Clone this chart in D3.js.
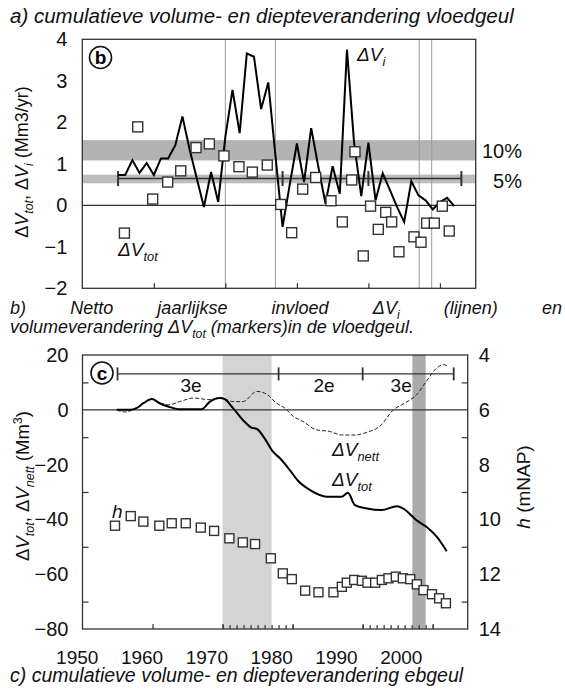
<!DOCTYPE html>
<html>
<head>
<meta charset="utf-8">
<script src="https://cdn.jsdelivr.net/npm/d3@7/dist/d3.min.js"></script>
<style>
  body { margin: 0; background: #fff; }
  svg { font-family: "Liberation Sans", Arial, sans-serif; }
</style>
</head>
<body>
<div id="chart"></div>
<script>
////////////////////////////////////////////////////////////////////////
// Data

// panel b: yearly net inflow dVi (line)
const inflowYears = [1955, 1956, 1957, 1958, 1959, 1960, 1961, 1962, 1963, 1964,
  1965, 1966, 1967, 1968, 1969, 1970, 1971, 1972, 1973, 1974, 1975, 1976, 1977,
  1978, 1979, 1980, 1981, 1982, 1983, 1984, 1985, 1986, 1987, 1988, 1989, 1990,
  1991, 1992, 1993, 1994, 1995, 1996, 1997, 1998, 1999, 2000, 2001, 2002];
const inflowValues = [0.73, 0.73, 1.09, 0.78, 1.02, 0.73, 1.13, 1.13, 1.45, 2.14,
  1.35, 0.65, -0.04, 0.8, 0.08, 1.65, 2.78, 1.74, 3.66, 3.58, 2.32, 2.96, 1.2,
  -0.52, 0.5, 1.49, 0.56, 1.86, 0.93, 0.04, 0.94, 0.28, 3.75, 1.5, 0.22, 1.51,
  0.12, 0.77, 0.37, -0.04, -0.4, 0.58, 0.24, 0.12, -0.1, 0.08, 0.18, -0.02];

// panel b: volume change dVtot (markers)
const volYears = [1957.75, 1959.84, 1961.94, 1963.76, 1965.9, 1967.76, 1969.8,
  1971.9, 1973.77, 1975.86, 1977.74, 1979.27, 1980.81, 1982.63, 1984.77, 1986.35,
  1987.66, 1988.12, 1989.28, 1990.3, 1991.38, 1992.42, 1993.25, 1994.27, 1996.37,
  1997.35, 1998.15, 1999.21, 2000.33, 2001.3];
const volValues = [1.89, 0.15, 0.56, 0.83, 1.39, 1.48, 1.19, 0.93, 0.8, 0.97,
  0.02, -0.66, 0.39, 0.67, 0.11, -0.4, 0.61, 1.29, -1.22, -0.02, -0.58, -0.17,
  -0.4, -1.12, -0.76, -0.89, -0.43, -0.43, -0.02, -0.62];

// panel b: 10% and 5% bands, period bar
const band10 = [1.08, 1.57];
const band5 = [0.53, 0.74];
const barLevelB = 0.645;
const periodYears = [1955, 1978, 1990, 2003];
const markerLines = [1970, 1977, 1997.1, 1998.85];

// panel c: cumulative volume change dVtot (solid)
const totYears = [1954.9, 1956.8, 1957.7, 1958.7, 1959.9, 1961.0, 1962.2, 1963.9,
  1967.0, 1968.2, 1969.6, 1970.3, 1971.5, 1972.9, 1974.1, 1974.9, 1976.0, 1977.2,
  1978.2, 1979.6, 1980.8, 1982.5, 1984.9, 1987.0, 1987.9, 1988.9, 1990.6, 1992.7,
  1994.9, 1996.0, 1997.7, 1999.1, 2000.6, 2002.0];
const totValues = [0, 0, 0.6, 2.4, 3.9, 2.4, 1.2, 0.2, 0.2, 3.0, 4.3, 3.9, 0.6,
  -3.7, -6.5, -7.0, -10.4, -15.3, -17.7, -22.0, -26.0, -29.3, -31.7, -31.7, -30.3,
  -34.8, -36.0, -36.6, -35.2, -36.4, -40.3, -42.7, -46.4, -51.6];

// panel c: cumulative net volume change dVnett (dashed)
const nettYears = [1954.9, 1956.0, 1957.2, 1958.7, 1959.9, 1961.0, 1962.2, 1963.9,
  1965.8, 1968.2, 1969.6, 1971.5, 1972.9, 1974.9, 1976.3, 1977.7, 1978.9, 1980.1,
  1981.5, 1983.4, 1985.3, 1987.0, 1988.9, 1990.6, 1992.5, 1994.4, 1996.0, 1997.7,
  1999.1, 2000.6, 2001.5, 2002.2];
const nettValues = [0, -0.8, 0, 2.4, 3.9, 2.6, 1.8, 3.0, 4.3, 3.7, 4.5, 3.0, 3.0,
  6.7, 5.7, 2.4, 0.6, -2.4, -4.3, -7.3, -7.9, -9.2, -9.2, -8.2, -5.9, 0, 2.4, 5.5,
  10.4, 15.3, 16.5, 15.9];

// panel c: depth h (markers, right axis)
const hYears = [1954.64, 1956.89, 1958.69, 1960.97, 1962.74, 1964.74, 1966.89,
  1968.79, 1970.97, 1972.89, 1974.64, 1976.89, 1978.6, 1979.89, 1981.79, 1983.69,
  1985.83, 1987.03, 1987.74, 1988.79, 1989.89, 1990.69, 1991.79, 1992.74, 1993.69,
  1994.74, 1995.74, 1996.79, 1997.74, 1998.69, 1999.89, 2000.93, 2001.89];
const hValues = [10.23, 9.88, 10.08, 10.23, 10.14, 10.14, 10.3, 10.42, 10.69,
  10.84, 10.9, 11.42, 11.97, 12.18, 12.6, 12.66, 12.66, 12.46, 12.31, 12.21,
  12.24, 12.31, 12.31, 12.21, 12.15, 12.09, 12.15, 12.18, 12.37, 12.58, 12.73,
  12.88, 13.06];

// panel c: shaded periods, period bar and labels
const shadeLight = [1970, 1977];
const shadeDark = [1997.1, 1999];
const barLevelC = 13.1;
const periodLabels = ["3e", "2e", "3e"];
const periodLabelYears = [1965.5, 1984.5, 1995.5];

// tick values
const ticksB = [-2, -1, 0, 1, 2, 3, 4];
const ticksCLeft = [20, 0, -20, -40, -60, -80];
const ticksCLeftMinor = [10, -10, -30, -50, -70];
const ticksCRight = [4, 6, 8, 10, 12, 14];
const ticksCRightMinor = [5, 7, 9, 11, 13];
const decadeTicks = [1960, 1970, 1980, 1990, 2000];
const yearLabels = [1950, 1960, 1970, 1980, 1990, 2000];

////////////////////////////////////////////////////////////////////////
// Layout

const width = 565, height = 691;
const svg = d3.select("#chart").append("svg")
  .attr("width", width).attr("height", height);

// text with delta / italic / subscript pieces
function rich(sel, parts, size) {
  let cur = 0;
  parts.forEach(p => {
    const shift = p.sub ? size * 0.27 : p.sup ? -size * 0.38 : 0;
    const t = sel.append("tspan").text(p.t);
    if (shift !== cur) t.attr("dy", shift - cur);
    cur = shift;
    if (p.sub || p.sup) t.style("font-size", (size * 0.68) + "px");
    if (p.i) t.style("font-style", "italic");
    else if (p.i === false) t.style("font-style", "normal");
  });
  return sel;
}
const dV = (sub, upright) => [
  {t: "\u0394", i: upright ? false : true}, {t: "V", i: true}, {t: sub, i: true, sub: true}
];

function label(x, y, size, parts, opts = {}) {
  const t = svg.append("text").attr("x", x).attr("y", y)
    .style("font-size", size + "px").attr("fill", "#111");
  if (opts.anchor) t.attr("text-anchor", opts.anchor);
  if (opts.italic) t.style("font-style", "italic");
  if (opts.transform) t.attr("transform", opts.transform);
  return rich(t, parts, size);
}

function circled(cx, cy, letter) {
  svg.append("circle").attr("cx", cx).attr("cy", cy).attr("r", 11)
    .attr("fill", "#fff").attr("stroke", "#111").attr("stroke-width", 1.6);
  svg.append("text").attr("x", cx).attr("y", cy + 6.5)
    .attr("text-anchor", "middle").style("font-size", "19px")
    .style("font-weight", "bold").text(letter);
}

const tidy = g => g.call(g => g.select(".domain").remove())
  .call(g => g.selectAll("line").attr("stroke", "#333").attr("stroke-width", 1.2))
  .call(g => g.selectAll("text").style("font-size", "20px")
    .style("font-family", "Liberation Sans, Arial, sans-serif").attr("fill", "#111"));

////////////////////////////////////////////////////////////////////////
// Panel b (top)

const xT = d3.scaleLinear().domain([1950, 2005]).range([82.3, 475.7]);
const yT = d3.scaleLinear().domain([-2, 4]).range([288.3, 39.3]);

const gT = svg.append("g");

[band10, band5].forEach((b, i) => {
  gT.append("rect")
    .attr("x", xT(1950)).attr("width", xT(2005) - xT(1950))
    .attr("y", yT(b[1])).attr("height", yT(b[0]) - yT(b[1]))
    .attr("fill", i === 0 ? "#b3b3b3" : "#bdbdbd");
});

gT.selectAll(".vline").data(markerLines).join("line")
  .attr("x1", d => xT(d)).attr("x2", d => xT(d))
  .attr("y1", yT(4)).attr("y2", yT(-2))
  .attr("stroke", "#999").attr("stroke-width", 1);

gT.append("line")
  .attr("x1", xT(1950)).attr("x2", xT(2005))
  .attr("y1", yT(0)).attr("y2", yT(0))
  .attr("stroke", "#333").attr("stroke-width", 1.3);

// period bar
gT.append("line")
  .attr("x1", xT(periodYears[0])).attr("x2", xT(periodYears[3]))
  .attr("y1", yT(barLevelB)).attr("y2", yT(barLevelB))
  .attr("stroke", "#333").attr("stroke-width", 1.6);
gT.selectAll(".ptick").data(periodYears).join("line")
  .attr("x1", d => xT(d)).attr("x2", d => xT(d))
  .attr("y1", yT(barLevelB) - 7.5).attr("y2", yT(barLevelB) + 7.5)
  .attr("stroke", "#333").attr("stroke-width", 2);

// inflow line
const inflow = inflowYears.map((y, i) => [y, inflowValues[i]]);
gT.append("path").datum(inflow)
  .attr("fill", "none").attr("stroke", "#000").attr("stroke-width", 2)
  .attr("d", d3.line().x(d => xT(d[0])).y(d => yT(d[1])));

// volume markers
const vol = volYears.map((y, i) => [y, volValues[i]]);
const sT = 10;
gT.selectAll(".vol").data(vol).join("rect")
  .attr("x", d => xT(d[0]) - sT / 2).attr("y", d => yT(d[1]) - sT / 2)
  .attr("width", sT).attr("height", sT)
  .attr("fill", "#fff").attr("stroke", "#333").attr("stroke-width", 1.4);

// legend marker
gT.append("rect")
  .attr("x", xT(1956) - sT / 2 - 0.8).attr("y", yT(-0.67) - sT / 2)
  .attr("width", sT).attr("height", sT)
  .attr("fill", "#fff").attr("stroke", "#333").attr("stroke-width", 1.4);

// frame
gT.append("rect")
  .attr("x", xT(1950)).attr("y", yT(4))
  .attr("width", xT(2005) - xT(1950)).attr("height", yT(-2) - yT(4))
  .attr("fill", "none").attr("stroke", "#333").attr("stroke-width", 1.3);

// axes
gT.append("g").attr("transform", `translate(0,${yT(-2)})`)
  .call(d3.axisBottom(xT).tickValues(decadeTicks).tickSize(-5).tickFormat(""))
  .call(tidy);

gT.append("g").attr("transform", `translate(${xT(1950)},0)`)
  .call(d3.axisLeft(yT).tickValues(ticksB).tickSize(0).tickPadding(15)
    .tickFormat(d3.format("d")))
  .call(tidy);

circled(100.5, 57.5, "b");

label(357, 61, 19, dV("i"), {italic: true});
label(118, 256, 19, dV("tot"), {italic: true});
label(522, 158, 20, [{t: "10%"}], {anchor: "end"});
label(522, 188, 20, [{t: "5%"}], {anchor: "end"});

label(0, 0, 18, [...dV("tot", true), {t: ", "}, ...dV("i", true), {t: " (Mm3/yr)"}],
  {anchor: "middle", transform: "translate(28,162) rotate(-90)"});

////////////////////////////////////////////////////////////////////////
// Panel c (bottom)

const xB = d3.scaleLinear().domain([1950, 2005]).range([82.5, 467.7]);
const yB = d3.scaleLinear().domain([-80, 20]).range([629, 355]);
const hB = d3.scaleLinear().domain([4, 14]).range([355, 629]);
const xLab = d3.scaleLinear().domain([1950, 2000]).range([76.7, 400.8]);

const gB = svg.append("g");

gB.append("rect")
  .attr("x", xB(shadeLight[0])).attr("width", xB(shadeLight[1]) - xB(shadeLight[0]))
  .attr("y", yB(20)).attr("height", yB(-80) - yB(20)).attr("fill", "#d4d4d4");
gB.append("rect")
  .attr("x", xB(shadeDark[0])).attr("width", xB(shadeDark[1]) - xB(shadeDark[0]))
  .attr("y", yB(20)).attr("height", yB(-80) - yB(20)).attr("fill", "#ababab");

gB.append("line")
  .attr("x1", xB(1950)).attr("x2", xB(2005))
  .attr("y1", yB(0)).attr("y2", yB(0))
  .attr("stroke", "#333").attr("stroke-width", 1.3);

// period bar
gB.append("line")
  .attr("x1", xB(periodYears[0])).attr("x2", xB(periodYears[3]))
  .attr("y1", yB(barLevelC)).attr("y2", yB(barLevelC))
  .attr("stroke", "#333").attr("stroke-width", 1.4);
gB.selectAll(".ptick").data(periodYears).join("line")
  .attr("x1", d => xB(d)).attr("x2", d => xB(d))
  .attr("y1", yB(barLevelC) - 6.5).attr("y2", yB(barLevelC) + 6.5)
  .attr("stroke", "#333").attr("stroke-width", 1.8);
gB.selectAll(".plab").data(periodLabels).join("text")
  .attr("x", (d, i) => xB(periodLabelYears[i])).attr("y", yB(barLevelC) + 18)
  .attr("text-anchor", "middle").style("font-size", "19px").attr("fill", "#111")
  .text(d => d);

const lineB = d3.line().x(d => xB(d[0])).y(d => yB(d[1])).curve(d3.curveMonotoneX);
gB.append("path").datum(nettYears.map((y, i) => [y, nettValues[i]]))
  .attr("fill", "none").attr("stroke", "#222").attr("stroke-width", 1)
  .attr("stroke-dasharray", "4,2").attr("d", lineB);
gB.append("path").datum(totYears.map((y, i) => [y, totValues[i]]))
  .attr("fill", "none").attr("stroke", "#000").attr("stroke-width", 2).attr("d", lineB);

const sB = 9;
gB.selectAll(".h").data(hYears.map((y, i) => [y, hValues[i]])).join("rect")
  .attr("x", d => xB(d[0]) - sB / 2).attr("y", d => hB(d[1]) - sB / 2)
  .attr("width", sB).attr("height", sB)
  .attr("fill", "#fff").attr("stroke", "#333").attr("stroke-width", 1.4);

// frame
gB.append("rect")
  .attr("x", xB(1950)).attr("y", yB(20))
  .attr("width", xB(2005) - xB(1950)).attr("height", yB(-80) - yB(20))
  .attr("fill", "none").attr("stroke", "#333").attr("stroke-width", 1.3);

// axes
gB.append("g").attr("transform", `translate(0,${yB(-80)})`)
  .call(d3.axisBottom(xB).tickValues(decadeTicks).tickSize(-5).tickFormat("")).call(tidy);
gB.append("g").attr("transform", `translate(0,${yB(-80)})`)
  .call(d3.axisBottom(xB).tickValues(d3.range(1970, 1981).concat(d3.range(1990, 2001)))
    .tickSize(-4).tickFormat("")).call(tidy);

gB.append("g").attr("transform", `translate(${xB(1950)},0)`)
  .call(d3.axisLeft(yB).tickValues(ticksCLeft).tickSize(0).tickPadding(14)
    .tickFormat(d3.format("d"))).call(tidy);
gB.append("g").attr("transform", `translate(${xB(1950)},0)`)
  .call(d3.axisRight(yB).tickValues(ticksCLeftMinor).tickSize(6).tickFormat("")).call(tidy);

gB.append("g").attr("transform", `translate(${xB(2005)},0)`)
  .call(d3.axisRight(hB).tickValues(ticksCRight).tickSize(0).tickPadding(11)
    .tickFormat(d3.format("d"))).call(tidy);
gB.append("g").attr("transform", `translate(${xB(2005)},0)`)
  .call(d3.axisLeft(hB).tickValues(ticksCRightMinor).tickSize(6).tickFormat("")).call(tidy);

// year labels (offset from the ticks, as in the figure)
gB.append("g").attr("transform", "translate(0,650)")
  .call(d3.axisBottom(xLab).tickValues(yearLabels).tickSize(0).tickPadding(0)
    .tickFormat(d3.format("d"))).call(tidy)
  .call(g => g.selectAll("text").style("font-size", "19px"));

circled(102, 373, "c");

label(332, 456, 19, dV("nett"), {italic: true});
label(332, 486, 19, dV("tot"), {italic: true});
label(112, 518, 19, [{t: "h"}], {italic: true});

label(0, 0, 18.5, [...dV("tot", true), {t: ", "}, ...dV("nett", true), {t: " (Mm"}, {t: "3", sup: true}, {t: ")"}],
  {anchor: "middle", transform: "translate(29,486) rotate(-90)"});
label(0, 0, 19, [{t: "h", i: true}, {t: " (mNAP)"}],
  {anchor: "middle", transform: "translate(530,487) rotate(-90)"});

////////////////////////////////////////////////////////////////////////
// Captions

label(10, 23, 20.5, [{t: "a) cumulatieve volume- en diepteverandering vloedgeul"}], {italic: true});

const cap1 = label(10, 314, 18, [{t: "b) Netto jaarlijkse invloed "}, ...dV("i"), {t: " (lijnen) en"}], {italic: true});
const natural = cap1.node().getComputedTextLength();
cap1.style("word-spacing", ((552 - natural) / 6) + "px");

label(10, 333, 18, [{t: "volumeverandering "}, ...dV("tot"), {t: " (markers)in de vloedgeul."}], {italic: true});

label(10, 682, 19.5, [{t: "c) cumulatieve volume- en diepteverandering ebgeul"}], {italic: true});
</script>
</body>
</html>
